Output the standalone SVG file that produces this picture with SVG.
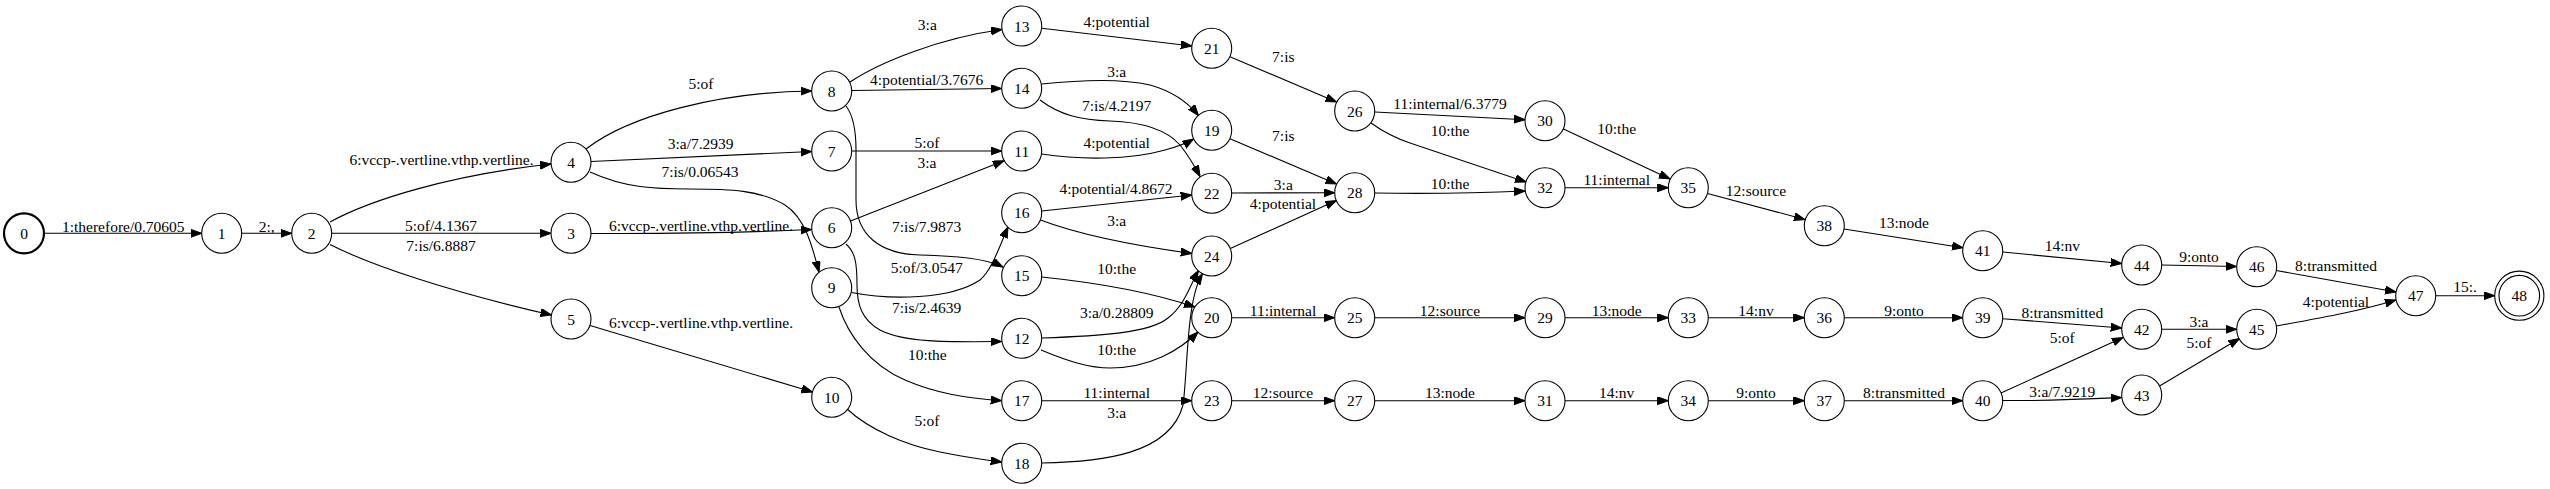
<svg xmlns="http://www.w3.org/2000/svg" width="2550" height="489" viewBox="0 0 2550 489">
<style>
text{font-family:"Liberation Serif","Times New Roman",serif;font-size:15.5px;text-anchor:middle;fill:#000}
.n circle{fill:#fff;stroke:#000;stroke-width:1.1}
#n0 circle{stroke-width:2.2}
#edges path{fill:none;stroke:#000;stroke-width:1.1;marker-end:url(#ah)}
</style>
<defs>
<marker id="ah" markerUnits="userSpaceOnUse" markerWidth="12" markerHeight="9" refX="11" refY="4" orient="auto">
<path d="M0,0 L11,4 L0,8 z" fill="#000" stroke="#000" stroke-width="1"/>
</marker>
</defs>
<rect width="2550" height="489" fill="#fff"/>
<g id="edges">
<path d="M45,233.3 L201.7,233.3"/>
<path d="M241.7,233.3 L291.7,233.3"/>
<path d="M330,222 C370,200 450,175 551,164"/>
<path d="M331.7,233.3 L551,233.3"/>
<path d="M330,244.5 C370,265 450,292 551.5,315"/>
<path d="M586,149 C630,115 720,92 811.7,91"/>
<path d="M591,161.5 L811.7,151.5"/>
<path d="M590,172 C625,188 655,189 690,189 C730,189 760,190 785,205 C805,218 812,245 819,272"/>
<path d="M591,233.5 C700,234 760,232 811.7,229.5"/>
<path d="M590,325.5 L812.5,392"/>
<path d="M850,82 C880,62 940,38 1002,29.5"/>
<path d="M851.7,90.5 L1001.7,88.5"/>
<path d="M846,106 C853,115 856,128 856,150 L856,200 C856,235 880,254 920,255 C955,256 985,258 1003,267"/>
<path d="M851.7,151 L1001.7,151"/>
<path d="M850.5,221 L1004,160.8"/>
<path d="M846,244 C855,252 857,262 857,285 C857,305 862,320 880,330 C905,343 950,342 1001.7,341.5"/>
<path d="M851.5,292.5 C890,300 950,300 980,280 C992,270 1000,245 1008,227"/>
<path d="M839,307 C848,335 870,365 905,380 C935,393 965,398 1001.7,400.7"/>
<path d="M847,409 C870,430 905,445 940,452 C965,457 985,460 1001.7,462"/>
<path d="M1041.6,28.2 L1191.8,46"/>
<path d="M1041.7,84 C1080,80 1120,78 1150,85 C1175,92 1190,105 1198.5,115.5"/>
<path d="M1040,100 C1060,115 1080,120 1110,121 C1140,122 1165,128 1180,145 C1188,155 1194,165 1200,176.5"/>
<path d="M1041.7,154 C1080,160 1130,160 1165,150 C1180,146 1187,143 1193.5,139"/>
<path d="M1041.7,211 L1191.7,195"/>
<path d="M1040.5,220 C1080,235 1130,245 1191.8,253.5"/>
<path d="M1041.7,277 C1100,283 1150,292 1195,307"/>
<path d="M1041.7,338 C1100,336 1150,333 1168,318 C1185,305 1190,285 1198.5,270.5"/>
<path d="M1041,350 C1070,362 1090,368 1110,368 C1150,368 1180,350 1198,332"/>
<path d="M1041.7,400.7 L1191.7,400.7"/>
<path d="M1041.7,463 C1100,462 1170,455 1183,405 C1188,370 1186,300 1202.5,273.7"/>
<path d="M1230,56.7 L1336.5,102"/>
<path d="M1230,138.7 L1336.5,184"/>
<path d="M1231.7,193 L1334.7,192.7"/>
<path d="M1230.3,248.5 L1336.3,200.6"/>
<path d="M1231.7,317.7 L1334.7,317.7"/>
<path d="M1231.7,400.7 L1334.7,400.7"/>
<path d="M1374.7,112 L1525,119.7"/>
<path d="M1371,123 C1385,133 1395,138 1410,143 L1526,182"/>
<path d="M1374.7,193 C1440,194 1480,193 1525,191"/>
<path d="M1374.7,317.7 L1525,317.7"/>
<path d="M1374.7,400.7 L1525,400.7"/>
<path d="M1563,128.7 L1670,179"/>
<path d="M1565,187.7 L1668.3,187.7"/>
<path d="M1565,317.7 L1668.3,317.7"/>
<path d="M1565,400.7 L1668.3,400.7"/>
<path d="M1707.5,193.5 L1805,219.5"/>
<path d="M1844,229 L1963,247.7"/>
<path d="M2002.7,252 L2121.7,263.5"/>
<path d="M1708.3,317.7 L1804.3,317.7"/>
<path d="M1844.3,317.7 L1962.7,317.7"/>
<path d="M2002.7,318.7 L2121.7,328"/>
<path d="M1708.3,400.7 L1804.3,400.7"/>
<path d="M1844.3,400.7 L1962.7,400.7"/>
<path d="M2001,393 L2123,337.5"/>
<path d="M2002.7,400.5 C2050,401 2090,399 2121.7,397.5"/>
<path d="M2161.7,265 L2236.7,266.5"/>
<path d="M2161.7,329.3 L2236.7,329.3"/>
<path d="M2159.5,386 L2239.5,338.5"/>
<path d="M2276.3,270.5 L2396,292"/>
<path d="M2276.5,326 C2320,318 2360,311 2396,300"/>
<path d="M2435.7,295.7 L2494.7,295.7"/>
</g>
<g id="edge-labels">
<text x="123.3" y="231.5">1:therefore/0.70605</text>
<text x="266.7" y="231.5">2:,</text>
<text x="441.5" y="164.5">6:vccp-.vertline.vthp.vertline.</text>
<text x="441" y="231">5:of/4.1367</text>
<text x="441" y="251">7:is/6.8887</text>
<text x="701" y="89">5:of</text>
<text x="700.7" y="149">3:a/7.2939</text>
<text x="700" y="176.7">7:is/0.06543</text>
<text x="701" y="230.7">6:vccp-.vertline.vthp.vertline.</text>
<text x="701" y="328.3">6:vccp-.vertline.vthp.vertline.</text>
<text x="927.3" y="30">3:a</text>
<text x="926.7" y="85">4:potential/3.7676</text>
<text x="927" y="148.3">5:of</text>
<text x="927" y="168.3">3:a</text>
<text x="926.7" y="232.3">7:is/7.9873</text>
<text x="926.7" y="273.3">5:of/3.0547</text>
<text x="926.7" y="313.3">7:is/2.4639</text>
<text x="927.3" y="360">10:the</text>
<text x="927" y="426">5:of</text>
<text x="1116.7" y="27.3">4:potential</text>
<text x="1116.7" y="77.3">3:a</text>
<text x="1116.7" y="111">7:is/4.2197</text>
<text x="1116.7" y="148.3">4:potential</text>
<text x="1116" y="194.3">4:potential/4.8672</text>
<text x="1116.7" y="226">3:a</text>
<text x="1116.7" y="274.3">10:the</text>
<text x="1116.7" y="318.3">3:a/0.28809</text>
<text x="1116.7" y="355">10:the</text>
<text x="1116.7" y="398.3">11:internal</text>
<text x="1116.7" y="418.3">3:a</text>
<text x="1283.3" y="62.3">7:is</text>
<text x="1283.3" y="141">7:is</text>
<text x="1283.3" y="190">3:a</text>
<text x="1283" y="209">4:potential</text>
<text x="1283" y="316">11:internal</text>
<text x="1283" y="398.3">12:source</text>
<text x="1450" y="109">11:internal/6.3779</text>
<text x="1450" y="136">10:the</text>
<text x="1450" y="189">10:the</text>
<text x="1450" y="316">12:source</text>
<text x="1450" y="398.3">13:node</text>
<text x="1616.7" y="134">10:the</text>
<text x="1616.7" y="185">11:internal</text>
<text x="1616.7" y="316">13:node</text>
<text x="1616.7" y="398.3">14:nv</text>
<text x="1756" y="196">12:source</text>
<text x="1904" y="227.7">13:node</text>
<text x="2062.3" y="251">14:nv</text>
<text x="1756" y="316">14:nv</text>
<text x="1904" y="316">9:onto</text>
<text x="2062.3" y="317.7">8:transmitted</text>
<text x="2062.3" y="342.7">5:of</text>
<text x="1756" y="398.3">9:onto</text>
<text x="1904" y="398.3">8:transmitted</text>
<text x="2062.3" y="396.7">3:a/7.9219</text>
<text x="2199" y="262.3">9:onto</text>
<text x="2336" y="271">8:transmitted</text>
<text x="2336" y="306.7">4:potential</text>
<text x="2199" y="326.7">3:a</text>
<text x="2199" y="347.7">5:of</text>
<text x="2465" y="292.3">15:.</text>
</g>
<g id="n0" class="n"><circle cx="24" cy="233.3" r="20"/><text x="24" y="238.8">0</text></g>
<g id="n1" class="n"><circle cx="221.7" cy="233.3" r="20"/><text x="221.7" y="238.8">1</text></g>
<g id="n2" class="n"><circle cx="311.7" cy="233.3" r="20"/><text x="311.7" y="238.8">2</text></g>
<g id="n3" class="n"><circle cx="571" cy="233.3" r="20"/><text x="571" y="238.8">3</text></g>
<g id="n4" class="n"><circle cx="571" cy="162.3" r="20"/><text x="571" y="167.8">4</text></g>
<g id="n5" class="n"><circle cx="571" cy="319" r="20"/><text x="571" y="324.5">5</text></g>
<g id="n6" class="n"><circle cx="831.7" cy="227.7" r="20"/><text x="831.7" y="233.2">6</text></g>
<g id="n7" class="n"><circle cx="831.7" cy="151" r="20"/><text x="831.7" y="156.5">7</text></g>
<g id="n8" class="n"><circle cx="831.7" cy="91" r="20"/><text x="831.7" y="96.5">8</text></g>
<g id="n9" class="n"><circle cx="831.7" cy="287.7" r="20"/><text x="831.7" y="293.2">9</text></g>
<g id="n10" class="n"><circle cx="831.7" cy="397.3" r="20"/><text x="831.7" y="402.8">10</text></g>
<g id="n11" class="n"><circle cx="1021.7" cy="151" r="20"/><text x="1021.7" y="156.5">11</text></g>
<g id="n12" class="n"><circle cx="1021.7" cy="338.3" r="20"/><text x="1021.7" y="343.8">12</text></g>
<g id="n13" class="n"><circle cx="1021.7" cy="26" r="20"/><text x="1021.7" y="31.5">13</text></g>
<g id="n14" class="n"><circle cx="1021.7" cy="88.3" r="20"/><text x="1021.7" y="93.8">14</text></g>
<g id="n15" class="n"><circle cx="1021.7" cy="275.7" r="20"/><text x="1021.7" y="281.2">15</text></g>
<g id="n16" class="n"><circle cx="1021.7" cy="212.7" r="20"/><text x="1021.7" y="218.2">16</text></g>
<g id="n17" class="n"><circle cx="1021.7" cy="400.7" r="20"/><text x="1021.7" y="406.2">17</text></g>
<g id="n18" class="n"><circle cx="1021.7" cy="463.3" r="20"/><text x="1021.7" y="468.8">18</text></g>
<g id="n19" class="n"><circle cx="1211.7" cy="130.3" r="20"/><text x="1211.7" y="135.8">19</text></g>
<g id="n20" class="n"><circle cx="1211.7" cy="317.7" r="20"/><text x="1211.7" y="323.2">20</text></g>
<g id="n21" class="n"><circle cx="1211.7" cy="48.3" r="20"/><text x="1211.7" y="53.8">21</text></g>
<g id="n22" class="n"><circle cx="1211.7" cy="193.3" r="20"/><text x="1211.7" y="198.8">22</text></g>
<g id="n23" class="n"><circle cx="1211.7" cy="400.7" r="20"/><text x="1211.7" y="406.2">23</text></g>
<g id="n24" class="n"><circle cx="1211.7" cy="256" r="20"/><text x="1211.7" y="261.5">24</text></g>
<g id="n25" class="n"><circle cx="1354.7" cy="317.7" r="20"/><text x="1354.7" y="323.2">25</text></g>
<g id="n26" class="n"><circle cx="1354.7" cy="111" r="20"/><text x="1354.7" y="116.5">26</text></g>
<g id="n27" class="n"><circle cx="1354.7" cy="400.7" r="20"/><text x="1354.7" y="406.2">27</text></g>
<g id="n28" class="n"><circle cx="1354.7" cy="192.7" r="20"/><text x="1354.7" y="198.2">28</text></g>
<g id="n29" class="n"><circle cx="1545" cy="317.7" r="20"/><text x="1545" y="323.2">29</text></g>
<g id="n30" class="n"><circle cx="1545" cy="120.7" r="20"/><text x="1545" y="126.2">30</text></g>
<g id="n31" class="n"><circle cx="1545" cy="400.7" r="20"/><text x="1545" y="406.2">31</text></g>
<g id="n32" class="n"><circle cx="1545" cy="187.7" r="20"/><text x="1545" y="193.2">32</text></g>
<g id="n33" class="n"><circle cx="1688.3" cy="317.7" r="20"/><text x="1688.3" y="323.2">33</text></g>
<g id="n34" class="n"><circle cx="1688.3" cy="400.7" r="20"/><text x="1688.3" y="406.2">34</text></g>
<g id="n35" class="n"><circle cx="1688.3" cy="187.7" r="20"/><text x="1688.3" y="193.2">35</text></g>
<g id="n36" class="n"><circle cx="1824.3" cy="317.7" r="20"/><text x="1824.3" y="323.2">36</text></g>
<g id="n37" class="n"><circle cx="1824.3" cy="400.7" r="20"/><text x="1824.3" y="406.2">37</text></g>
<g id="n38" class="n"><circle cx="1824.3" cy="225.7" r="20"/><text x="1824.3" y="231.2">38</text></g>
<g id="n39" class="n"><circle cx="1982.7" cy="317.7" r="20"/><text x="1982.7" y="323.2">39</text></g>
<g id="n40" class="n"><circle cx="1982.7" cy="400.7" r="20"/><text x="1982.7" y="406.2">40</text></g>
<g id="n41" class="n"><circle cx="1982.7" cy="250.7" r="20"/><text x="1982.7" y="256.2">41</text></g>
<g id="n42" class="n"><circle cx="2141.7" cy="329.3" r="20"/><text x="2141.7" y="334.8">42</text></g>
<g id="n43" class="n"><circle cx="2141.7" cy="395" r="20"/><text x="2141.7" y="400.5">43</text></g>
<g id="n44" class="n"><circle cx="2141.7" cy="265" r="20"/><text x="2141.7" y="270.5">44</text></g>
<g id="n45" class="n"><circle cx="2256.7" cy="329.3" r="20"/><text x="2256.7" y="334.8">45</text></g>
<g id="n46" class="n"><circle cx="2256.7" cy="266.7" r="20"/><text x="2256.7" y="272.2">46</text></g>
<g id="n47" class="n"><circle cx="2415.7" cy="295.7" r="20"/><text x="2415.7" y="301.2">47</text></g>
<g id="n48" class="n"><circle cx="2519.3" cy="295.7" r="24.6"/><circle cx="2519.3" cy="295.7" r="20.3"/><text x="2519.3" y="301.2">48</text></g>
</svg>
